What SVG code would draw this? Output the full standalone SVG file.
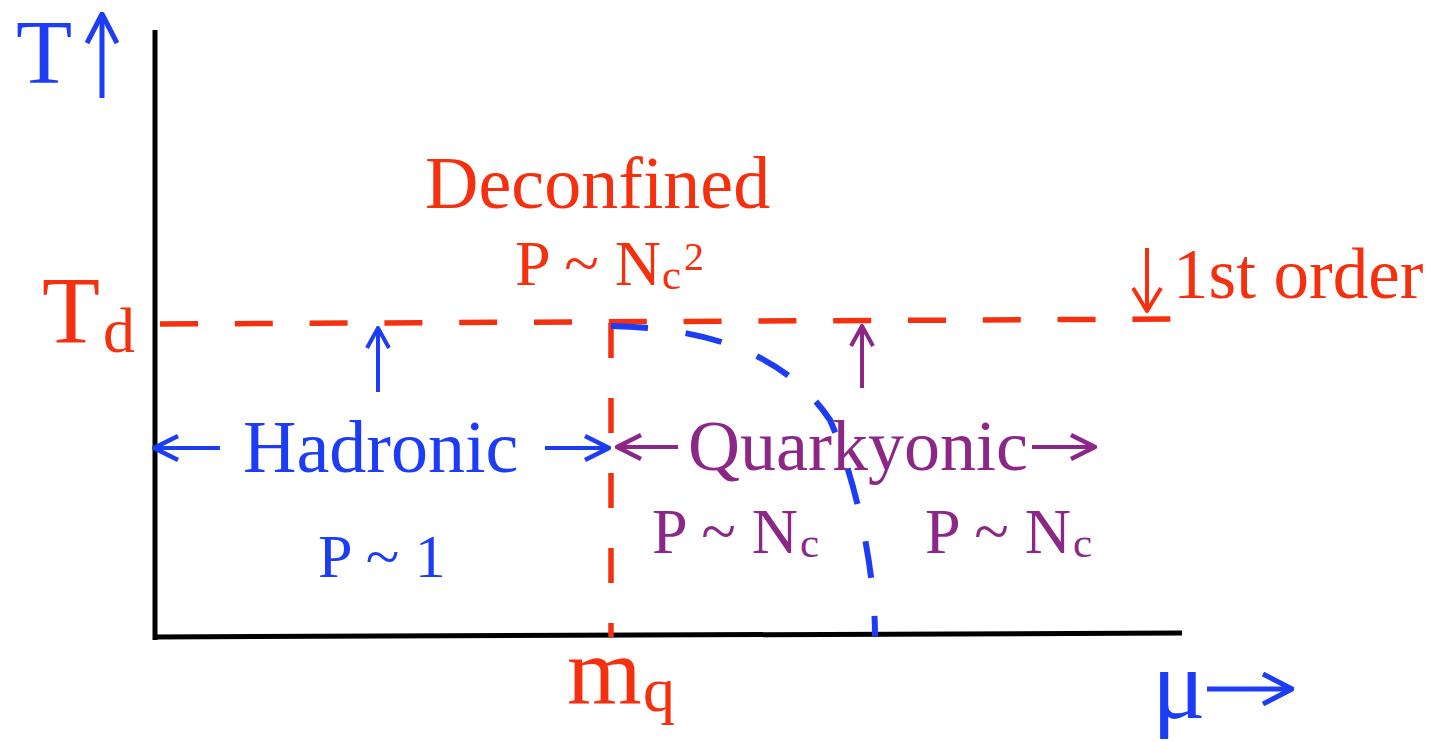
<svg xmlns="http://www.w3.org/2000/svg" width="1439" height="742" viewBox="0 0 1439 742">
<style>
text{font-family:"Liberation Serif","Times New Roman",serif}
.b{fill:#1c3cf5}.r{fill:#f5300f}.p{fill:#8c2787}
.sb{stroke:#1c3cf5;fill:none}.sr{stroke:#f5300f;fill:none}.sp{stroke:#8c2787;fill:none}
</style>
<defs>
<marker id="bL" markerUnits="userSpaceOnUse" viewBox="-32 -17 34 34" refX="0" refY="0" markerWidth="34" markerHeight="34" orient="auto"><path d="M-29,-15 L0,0 L-29,15" stroke="#1c3cf5" stroke-width="5" fill="none" stroke-linejoin="round"/></marker>
<marker id="bM" markerUnits="userSpaceOnUse" viewBox="-28 -15 30 30" refX="0" refY="0" markerWidth="30" markerHeight="30" orient="auto"><path d="M-24,-12 L0,0 L-24,12" stroke="#1c3cf5" stroke-width="4.5" fill="none" stroke-linejoin="round"/></marker>
<marker id="bS" markerUnits="userSpaceOnUse" viewBox="-24 -14 26 28" refX="0" refY="0" markerWidth="26" markerHeight="28" orient="auto"><path d="M-20,-11 L0,0 L-20,11" stroke="#1c3cf5" stroke-width="4" fill="none" stroke-linejoin="round"/></marker>
<marker id="pM" markerUnits="userSpaceOnUse" viewBox="-28 -15 30 30" refX="0" refY="0" markerWidth="30" markerHeight="30" orient="auto"><path d="M-24,-12 L0,0 L-24,12" stroke="#8c2787" stroke-width="4.5" fill="none" stroke-linejoin="round"/></marker>
<marker id="pS" markerUnits="userSpaceOnUse" viewBox="-24 -14 26 28" refX="0" refY="0" markerWidth="26" markerHeight="28" orient="auto"><path d="M-20,-11 L0,0 L-20,11" stroke="#8c2787" stroke-width="4" fill="none" stroke-linejoin="round"/></marker>
<marker id="rM" markerUnits="userSpaceOnUse" viewBox="-28 -17 30 34" refX="0" refY="0" markerWidth="30" markerHeight="34" orient="auto"><path d="M-23,-14 L0,0 L-23,14" stroke="#f5300f" stroke-width="4" fill="none" stroke-linejoin="round"/></marker>
</defs>
<rect width="1439" height="742" fill="#fff"/>
<g id="connectors">
<g id="axes" stroke="#000" stroke-width="5" fill="none">
<line x1="155" y1="30" x2="155" y2="640"/>
<line x1="153" y1="637" x2="1182" y2="633"/>
</g>
<line id="td-line" class="sr" x1="160" y1="324" x2="1178" y2="319" stroke-width="5.5" stroke-dasharray="38 36.8"/>
<line id="mq-line" class="sr" x1="611" y1="323" x2="611" y2="637" stroke-width="5.5" stroke-dasharray="35 40"/>
<path id="blue-arc" class="sb" d="M611,326 C720,328 790,360 830,420 C852,470 875,560 875,636" stroke-width="6" stroke-dasharray="37 38"/>
<line id="arrow-T" class="sb" x1="102" y1="98" x2="102" y2="14" stroke-width="5" marker-end="url(#bL)"/>
<line id="arrow-mu" class="sb" x1="1207" y1="689" x2="1292" y2="689" stroke-width="5" marker-end="url(#bL)"/>
<line id="arrow-had-l" class="sb" x1="220" y1="448" x2="154" y2="448" stroke-width="4" marker-end="url(#bM)"/>
<line id="arrow-had-r" class="sb" x1="545" y1="448" x2="609" y2="448" stroke-width="4" marker-end="url(#bM)"/>
<line id="arrow-q-l" class="sp" x1="678" y1="447" x2="617" y2="447" stroke-width="4" marker-end="url(#pM)"/>
<line id="arrow-q-r" class="sp" x1="1032" y1="447" x2="1095" y2="447" stroke-width="4" marker-end="url(#pM)"/>
<line id="arrow-up-b" class="sb" x1="378" y1="392" x2="378" y2="328" stroke-width="4" marker-end="url(#bS)"/>
<line id="arrow-up-p" class="sp" x1="862" y1="388" x2="862" y2="326" stroke-width="4" marker-end="url(#pS)"/>
<line id="arrow-down-r" class="sr" x1="1147" y1="248" x2="1147" y2="311" stroke-width="4" marker-end="url(#rM)"/>
</g>
<g id="label-T"><text class="b" x="16" y="83" font-size="92">T</text></g>
<g id="label-Td"><text class="r" x="42" y="343" font-size="95">T</text><text class="r" x="103" y="352" font-size="64">d</text></g>
<g id="label-deconfined"><text class="r" x="425" y="208" font-size="74">Deconfined</text></g>
<g id="label-p-nc2"><text class="r" x="515" y="285" font-size="64">P ~ N</text><text class="r" x="662" y="289" font-size="43">c</text><text class="r" x="684" y="270" font-size="40">2</text></g>
<g id="label-1st-order"><text class="r" x="1173" y="298" font-size="71">1st order</text></g>
<g id="label-hadronic"><text class="b" x="243" y="472" font-size="74">Hadronic</text></g>
<g id="label-p1"><text class="b" x="318" y="577" font-size="62">P ~ 1</text></g>
<g id="label-quarkyonic"><text class="p" x="688" y="470" font-size="72">Quarkyonic</text></g>
<g id="label-p-nc-a"><text class="p" x="652" y="553" font-size="64">P ~ N</text><text class="p" x="800" y="557" font-size="43">c</text></g>
<g id="label-p-nc-b"><text class="p" x="925" y="553" font-size="64">P ~ N</text><text class="p" x="1073" y="557" font-size="43">c</text></g>
<g id="label-mq"><text class="r" x="567" y="703" font-size="96">m</text><text class="r" x="643" y="711" font-size="64">q</text></g>
<g id="label-mu"><text class="b" x="1152" y="718" font-size="100">μ</text></g>
</svg>
